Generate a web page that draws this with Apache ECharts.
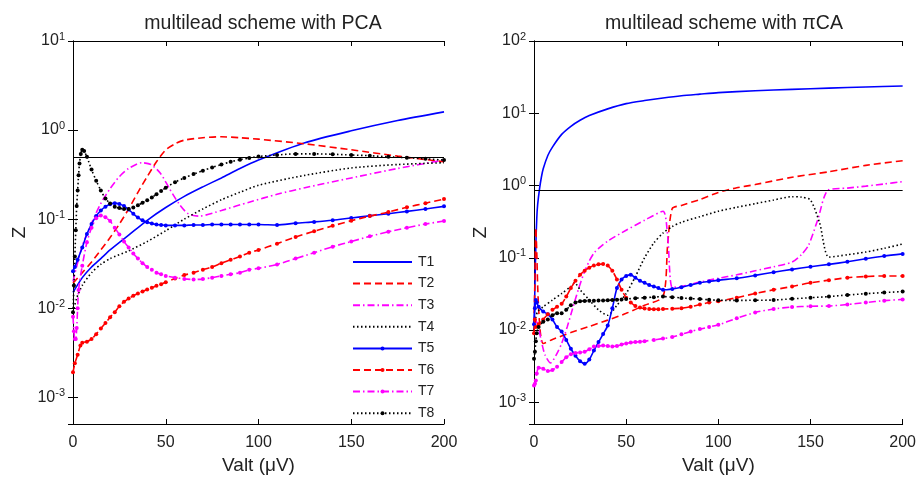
<!DOCTYPE html>
<html>
<head>
<meta charset="utf-8">
<script src="https://cdn.jsdelivr.net/npm/echarts@6/dist/echarts.min.js"></script>
<style>
  html, body { margin: 0; padding: 0; background: #fff; }
  #chart { width: 919px; height: 480px; }
</style>
</head>
<body>
<div id="chart"></div>
<script>
// values, [Valt, Z]
const seriesNames = ['T1', 'T2', 'T3', 'T4', 'T5', 'T6', 'T7', 'T8'];
const xTicks = [0, 50, 100, 150, 200];
const hLinePCA = 0.49;
const hLinePi = 0.856;

// left panel: multilead scheme with PCA
const pcaT1 = [[0,0.015],[5,0.022],[10,0.029],[15,0.036],[20,0.045],[30,0.066],[40,0.097],[50,0.135],[60,0.18],[70,0.23],[80,0.29],[90,0.37],[100,0.46],[125,0.72],[150,0.98],[175,1.28],[200,1.6]];
const pcaT2 = [[0,0.019],[5,0.025],[10,0.033],[15,0.045],[20,0.062],[25,0.088],[30,0.13],[35,0.2],[40,0.3],[45,0.44],[50,0.6],[55,0.7],[60,0.77],[70,0.82],[80,0.84],[90,0.82],[100,0.79],[125,0.7],[150,0.6],[175,0.51],[200,0.44]];
const pcaT3 = [[0,0.02],[5,0.05],[10,0.09],[15,0.15],[20,0.22],[25,0.3],[30,0.37],[37,0.43],[42,0.41],[47,0.33],[52,0.22],[57,0.15],[62,0.115],[68,0.108],[80,0.125],[95,0.155],[110,0.19],[125,0.225],[150,0.29],[175,0.37],[200,0.46]];
const pcaT4 = [[0,0.009],[2,0.013],[5,0.018],[10,0.025],[15,0.031],[20,0.036],[30,0.044],[40,0.056],[50,0.074],[60,0.1],[70,0.13],[80,0.165],[90,0.2],[100,0.24],[125,0.31],[150,0.375],[175,0.41],[200,0.43]];
const pcaT5 = [[0,0.026],[1,0.029],[2.5,0.035],[5,0.048],[7.5,0.068],[10,0.088],[12.5,0.108],[15,0.125],[17.5,0.138],[20,0.147],[22.5,0.151],[25,0.148],[27.5,0.14],[30,0.128],[32.5,0.115],[35,0.104],[37.5,0.097],[40,0.092],[42.5,0.089],[45,0.087],[47.5,0.086],[50,0.085],[55,0.085],[60,0.085],[65,0.086],[70,0.086],[75,0.087],[80,0.087],[85,0.087],[90,0.087],[95,0.087],[100,0.087],[110,0.086],[120,0.09],[130,0.093],[140,0.097],[150,0.103],[160,0.109],[170,0.115],[180,0.122],[190,0.13],[200,0.139]];
const pcaT6 = [[0,0.0019],[1,0.0024],[2.5,0.003],[4,0.0038],[5,0.0041],[7.5,0.0042],[10,0.0045],[12.5,0.0051],[15,0.0059],[17.5,0.0068],[20,0.0079],[22.5,0.009],[25,0.0105],[27.5,0.0118],[30,0.0128],[32.5,0.0138],[35,0.0146],[37.5,0.0154],[40,0.0162],[42.5,0.0169],[45,0.0178],[47.5,0.0186],[50,0.0195],[55,0.0215],[60,0.0235],[65,0.025],[70,0.027],[75,0.029],[80,0.032],[85,0.035],[90,0.038],[95,0.042],[100,0.045],[110,0.053],[120,0.063],[130,0.073],[140,0.084],[150,0.096],[160,0.108],[170,0.12],[180,0.136],[190,0.151],[200,0.168]];
const pcaT7 = [[0,0.008],[0.5,0.0055],[1,0.0045],[1.5,0.0045],[2,0.006],[2.5,0.01],[3,0.016],[5,0.03],[7.5,0.055],[10,0.08],[12.5,0.102],[15,0.11],[17.5,0.105],[20,0.095],[22.5,0.08],[25,0.067],[27.5,0.056],[30,0.048],[32.5,0.041],[35,0.036],[37.5,0.032],[40,0.029],[42.5,0.027],[45,0.025],[47.5,0.024],[50,0.023],[55,0.022],[60,0.0213],[65,0.021],[70,0.0212],[75,0.022],[80,0.023],[85,0.024],[90,0.025],[95,0.027],[100,0.028],[110,0.031],[120,0.036],[130,0.042],[140,0.049],[150,0.056],[160,0.064],[170,0.072],[180,0.08],[190,0.088],[200,0.095]];
const pcaT8 = [[0,0.009],[0.5,0.018],[1,0.038],[1.5,0.075],[2,0.14],[2.5,0.21],[3,0.31],[3.5,0.42],[4.2,0.54],[5,0.6],[6,0.58],[7.5,0.5],[10,0.36],[12.5,0.27],[15,0.21],[17.5,0.17],[20,0.15],[22.5,0.138],[25,0.133],[27.5,0.13],[30,0.13],[32.5,0.135],[35,0.143],[37.5,0.153],[40,0.163],[42.5,0.175],[45,0.19],[47.5,0.207],[50,0.225],[55,0.26],[60,0.29],[65,0.32],[70,0.35],[75,0.38],[80,0.41],[85,0.44],[90,0.465],[95,0.485],[100,0.505],[110,0.525],[120,0.54],[130,0.54],[140,0.535],[150,0.525],[160,0.515],[170,0.5],[180,0.49],[190,0.475],[200,0.46]];

// right panel: multilead scheme with piCA
const piT1 = [[0,0.01],[0.5,0.04],[1,0.15],[1.5,0.35],[2,0.55],[3,0.9],[4,1.3],[5,1.7],[7.5,2.6],[10,3.4],[15,5.1],[20,6.6],[25,8.0],[30,9.3],[40,11.5],[50,13.6],[60,15.0],[70,16.3],[80,17.5],[90,18.4],[100,19.3],[120,20.5],[140,21.4],[160,22.3],[180,23.1],[200,23.8]];
const piT2 = [[0,0.012],[0.5,0.05],[1,0.26],[1.5,0.12],[2,0.04],[2.5,0.02],[3.5,0.009],[5,0.0065],[10,0.0074],[20,0.0092],[30,0.0112],[40,0.0137],[50,0.017],[60,0.022],[70,0.029],[72.5,0.15],[75,0.48],[80,0.53],[90,0.64],[100,0.8],[110,0.93],[120,1.03],[140,1.3],[160,1.55],[180,1.9],[200,2.2]];
const piT3 = [[0,0.015],[2,0.012],[4,0.007],[6,0.0045],[9,0.0035],[12,0.0045],[15,0.0065],[18,0.011],[21,0.02],[24,0.036],[27,0.06],[30,0.09],[33,0.12],[40,0.17],[50,0.24],[60,0.33],[70,0.44],[72.5,0.2],[75,0.039],[80,0.04],[90,0.046],[100,0.052],[110,0.058],[120,0.066],[130,0.075],[140,0.087],[145,0.11],[149,0.15],[154,0.34],[159.5,0.86],[170,0.92],[180,0.98],[190,1.05],[200,1.13]];
const piT4 = [[0,0.01],[1,0.015],[2,0.018],[5,0.021],[10,0.026],[15,0.032],[20,0.04],[22,0.045],[25,0.036],[30,0.026],[35,0.019],[40,0.016],[45,0.022],[50,0.032],[55,0.055],[60,0.1],[65,0.16],[70,0.22],[75,0.27],[80,0.31],[90,0.37],[100,0.44],[110,0.5],[120,0.56],[130,0.63],[140,0.7],[145,0.69],[150,0.63],[155,0.3],[160,0.102],[170,0.11],[180,0.12],[190,0.135],[200,0.155]];
const piT5 = [[0,0.012],[0.5,0.02],[1,0.026],[1.5,0.024],[2.5,0.021],[5,0.018],[7.5,0.0165],[10,0.014],[12.5,0.011],[15,0.0095],[17.5,0.0073],[20,0.0055],[22.5,0.0044],[25,0.0037],[27.5,0.0034],[30,0.0039],[32.5,0.0052],[35,0.0068],[37.5,0.0088],[40,0.0115],[42.5,0.02],[45,0.038],[47.5,0.05],[50,0.056],[52.5,0.058],[55,0.053],[57.5,0.048],[60,0.045],[62.5,0.042],[65,0.04],[67.5,0.038],[70,0.036],[75,0.037],[80,0.039],[85,0.042],[90,0.045],[95,0.047],[100,0.049],[110,0.052],[120,0.057],[130,0.063],[140,0.069],[150,0.075],[160,0.081],[170,0.088],[180,0.097],[190,0.106],[200,0.113]];
const piT6 = [[0,0.009],[0.5,0.014],[1,0.011],[2.5,0.012],[5,0.014],[7.5,0.0165],[10,0.019],[12.5,0.021],[15,0.023],[17.5,0.029],[20,0.038],[22.5,0.048],[25,0.058],[27.5,0.066],[30,0.073],[32.5,0.078],[35,0.081],[37.5,0.082],[40,0.078],[42.5,0.066],[45,0.05],[47.5,0.036],[50,0.028],[52.5,0.024],[55,0.0215],[57.5,0.0205],[60,0.0198],[62.5,0.0195],[65,0.0194],[67.5,0.0194],[70,0.0195],[75,0.0197],[80,0.02],[85,0.021],[90,0.0225],[95,0.024],[100,0.025],[110,0.028],[120,0.032],[130,0.036],[140,0.04],[150,0.045],[160,0.049],[170,0.053],[180,0.055],[190,0.056],[200,0.056]];
const piT7 = [[0,0.0017],[0.5,0.0018],[1,0.002],[1.5,0.0025],[2.5,0.003],[5,0.0029],[7.5,0.0027],[10,0.0028],[12.5,0.0031],[15,0.0036],[17.5,0.0042],[20,0.0046],[22.5,0.0048],[25,0.0049],[27.5,0.005],[30,0.0054],[32.5,0.0059],[35,0.006],[37.5,0.0061],[40,0.006],[42.5,0.0059],[45,0.006],[47.5,0.0063],[50,0.0065],[52.5,0.0067],[55,0.0068],[57.5,0.0069],[60,0.007],[65,0.0073],[70,0.0076],[75,0.008],[80,0.0087],[85,0.0095],[90,0.0103],[95,0.011],[100,0.0118],[110,0.0145],[120,0.0175],[130,0.0195],[140,0.0208],[150,0.0213],[160,0.0215],[170,0.0225],[180,0.024],[190,0.0255],[200,0.0265]];
const piT8 = [[0,0.004],[0.5,0.005],[1,0.007],[1.5,0.009],[2.5,0.011],[5,0.013],[7.5,0.014],[10,0.016],[12.5,0.017],[15,0.017],[17.5,0.019],[20,0.022],[22.5,0.024],[25,0.025],[27.5,0.0252],[30,0.0254],[32.5,0.0255],[35,0.0256],[37.5,0.0257],[40,0.0258],[42.5,0.026],[45,0.0262],[47.5,0.0265],[50,0.0268],[55,0.0275],[60,0.028],[65,0.0285],[70,0.029],[75,0.0285],[80,0.0278],[85,0.0272],[90,0.0268],[95,0.0262],[100,0.0258],[110,0.0257],[120,0.0258],[130,0.026],[140,0.027],[150,0.028],[160,0.029],[170,0.0305],[180,0.0318],[190,0.033],[200,0.034]];

const pcaData = [pcaT1, pcaT2, pcaT3, pcaT4, pcaT5, pcaT6, pcaT7, pcaT8];
const piData = [piT1, piT2, piT3, piT4, piT5, piT6, piT7, piT8];

// look of each trace
const blue = '#0000ff', red = '#ff0000', magenta = '#ff00ff', black = '#000000';
const looks = [
  { color: blue, dash: 'solid', dots: false },
  { color: red, dash: [7, 4], dots: false },
  { color: magenta, dash: [7, 3, 1.5, 3], dots: false },
  { color: black, dash: [1.5, 2.5], dots: false },
  { color: blue, dash: 'solid', dots: true },
  { color: red, dash: [7, 4], dots: true },
  { color: magenta, dash: [7, 3, 1.5, 3], dots: true },
  { color: black, dash: [1.5, 2.5], dots: true }
];

const textColor = '#222';
const font = 'Liberation Sans, Arial, sans-serif';

function expLabel(v) {
  const l = Math.log10(v);
  const e = Math.round(l);
  if (Math.abs(l - e) > 0.01) return '';
  return '{b|10}{e|' + e + '}';
}

function makeAxes(yMax) {
  const x = [
    {
      type: 'value', min: 0, max: 200, interval: 50,
      axisLine: { show: true, lineStyle: { color: '#000', width: 1 } },
      axisTick: { show: true, inside: true, length: 5, lineStyle: { color: '#000' } },
      axisLabel: { color: textColor, fontSize: 16, fontFamily: font, margin: 11 },
      splitLine: { show: false },
      name: 'Valt (\u03bcV)', nameLocation: 'middle', nameGap: 32,
      nameTextStyle: { color: textColor, fontSize: 19, fontFamily: font }
    },
    {
      type: 'value', position: 'top', min: 0, max: 200, interval: 50,
      axisLine: { show: true, lineStyle: { color: '#000', width: 1 } },
      axisTick: { show: true, inside: true, length: 5, lineStyle: { color: '#000' } },
      axisLabel: { show: false }, splitLine: { show: false }
    }
  ];
  const y = [
    {
      type: 'log', min: 0.0005, max: yMax,
      axisLine: { show: true, lineStyle: { color: '#000', width: 1 } },
      axisTick: { show: true, inside: true, length: 5, lineStyle: { color: '#000' } },
      axisLabel: {
        color: textColor, fontFamily: font, margin: 8, formatter: expLabel,
        rich: {
          b: { fontSize: 16, fontFamily: font, color: textColor, lineHeight: 20 },
          e: { fontSize: 11, fontFamily: font, color: textColor, verticalAlign: 'top' }
        }
      },
      splitLine: { show: false }, minorTick: { show: false },
      name: 'Z', nameLocation: 'middle', nameGap: 44,
      nameTextStyle: { color: textColor, fontSize: 19, fontFamily: font }
    },
    {
      type: 'log', position: 'right', min: 0.0005, max: yMax,
      axisLine: { show: true, lineStyle: { color: '#000', width: 1 } },
      axisTick: { show: true, inside: true, length: 5, lineStyle: { color: '#000' } },
      axisLabel: { show: false }, splitLine: { show: false }
    }
  ];
  return { x, y };
}

function makeSeries(dataList, axisIndex, hLine) {
  return dataList.map((data, i) => {
    const look = looks[i];
    const s = {
      name: seriesNames[i], type: 'line', data,
      xAxisIndex: axisIndex, yAxisIndex: axisIndex,
      smooth: 0.25,
      symbol: look.dots ? 'circle' : 'none',
      symbolSize: 4,
      showSymbol: look.dots,
      itemStyle: { color: look.color },
      lineStyle: { color: look.color, width: 1.6, type: look.dash },
      z: 2
    };
    if (i === 0) {
      s.markLine = {
        silent: true, symbol: ['none', 'none'], label: { show: false },
        lineStyle: { color: '#000', width: 1, type: 'solid' },
        data: [{ yAxis: hLine }]
      };
    }
    return s;
  });
}

const left = makeAxes(10);
const right = makeAxes(100);

const chart = echarts.init(document.getElementById('chart'));
chart.setOption({
  animation: false,
  backgroundColor: '#fff',
  title: [
    { text: 'multilead scheme with PCA', left: 258, top: 9, textAlign: 'center',
      textStyle: { color: textColor, fontSize: 19.5, fontWeight: 'normal', fontFamily: font } },
    { text: 'multilead scheme with \u03c0CA', left: 719, top: 9, textAlign: 'center',
      textStyle: { color: textColor, fontSize: 19.5, fontWeight: 'normal', fontFamily: font } }
  ],
  grid: [
    { left: 73, top: 41, width: 371, height: 391 },
    { left: 534, top: 41, width: 371, height: 391 }
  ],
  legend: {
    orient: 'vertical', left: 352, top: 255, padding: 0,
    itemWidth: 59, itemHeight: 5, itemGap: 7.6,
    textStyle: { color: textColor, fontSize: 14, fontFamily: font, lineHeight: 14, padding: [0, 0, 0, 1] },
    data: seriesNames.map((n, i) => looks[i].dots
      ? { name: n }
      : { name: n, itemStyle: { color: 'rgba(0,0,0,0)', borderWidth: 0 } })
  },
  xAxis: [...left.x, ...right.x].map((a, i) => Object.assign(a, { gridIndex: i < 2 ? 0 : 1 })),
  yAxis: [...left.y, ...right.y].map((a, i) => Object.assign(a, { gridIndex: i < 2 ? 0 : 1 })),
  series: [
    ...makeSeries(pcaData, 0, hLinePCA),
    ...makeSeries(piData, 2, hLinePi)
  ]
});
</script>
</body>
</html>
